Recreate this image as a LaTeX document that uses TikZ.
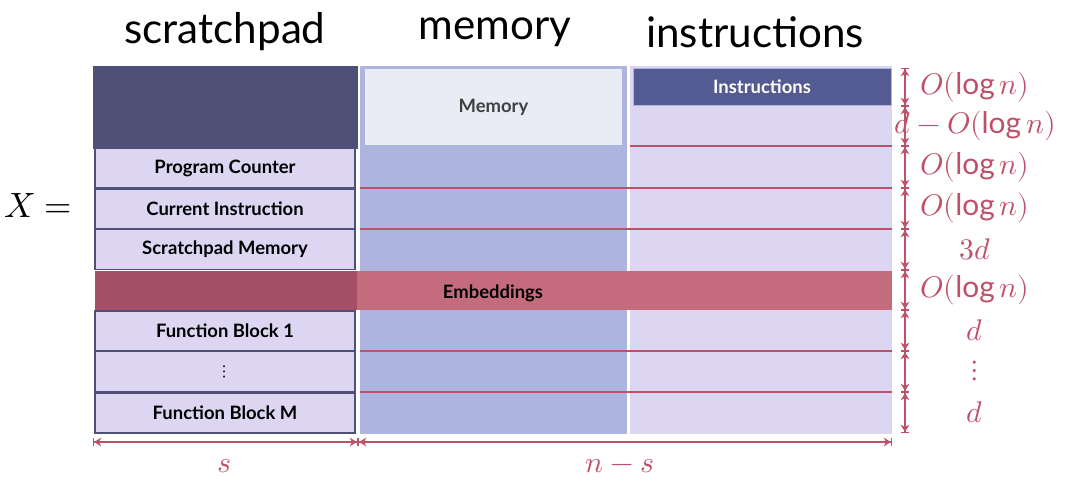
\documentclass[tikz,border=0pt]{standalone}
\usepackage{fontspec}
\setmainfont{Lato}
\usepackage{unicode-math}
\setmathfont{Latin Modern Math}
\usetikzlibrary{arrows.meta,calc}
\definecolor{navy}{HTML}{4F5078}
\definecolor{lav}{HTML}{DCD6F2}
\definecolor{memblue}{HTML}{ADB4DE}
\definecolor{membox}{HTML}{E9EBF5}
\definecolor{instr}{HTML}{545A92}
\definecolor{embd}{HTML}{C56B7E}
\definecolor{embdark}{HTML}{A44F65}
\definecolor{dimred}{HTML}{C0506A}
\tikzset{
  cell/.style={draw=navy, fill=lav, line width=0.8pt, minimum width=5.2cm, minimum height=0.8cm, inner sep=0pt, font=\bfseries\fontsize{10.5}{12}\selectfont},
  head/.style={font=\fontsize{24}{28}\selectfont},
  sep/.style={draw=dimred, line width=0.6pt},
  dim/.style={draw=dimred, line width=0.7pt, {Bar[width=5pt]Stealth[length=4pt,width=5pt]}-{Stealth[length=4pt,width=5pt]Bar[width=5pt]}},
  dimlab/.style={text=dimred, font=\fontsize{17}{20}\selectfont}
}
\begin{document}
\begin{tikzpicture}[x=0.02cm,y=-0.02cm]
\useasboundingbox (0,0) rectangle (1080,488);
% headers
\node[head] (hs) at (225,32) {scratchpad};
\node[head] (hm) at (495,32) {memory};
\node[head] (hi) at (755,32) {instructions};
\node[font=\fontsize{20}{24}\selectfont] (X) at (38,205) {$X=$};
% columns
\fill[memblue] (360,66) rectangle (627,434);
\fill[lav] (630,66) rectangle (892,434);
\node[fill=membox, draw=memblue, line width=0.8pt, minimum width=5.18cm, minimum height=1.56cm, inner sep=0pt, text=black!75, font=\bfseries\fontsize{10.5}{12}\selectfont] (mem) at (493.5,107) {Memory};
\node[fill=instr, draw=memblue, minimum width=5.16cm, minimum height=0.74cm, inner sep=0pt, text=white, font=\bfseries\fontsize{10.5}{12}\selectfont] (ins) at (762,87) {Instructions};
% scratchpad
\node[draw=navy, fill=navy, minimum width=5.28cm, minimum height=1.64cm, inner sep=0pt] (top) at (225,107) {};
\node[cell] (pc) at (225,168) {Program Counter};
\node[cell] (ci) at (225,209) {Current Instruction};
\node[cell] (sm) at (225,249.5) {Scratchpad Memory};
\node[cell] (f1) at (225,331) {Function Block 1};
\node[cell] (fd) at (225,371.5) {$\vdots$};
\node[cell] (fm) at (225,413) {Function Block M};
% separators
\draw[sep] (630,146) -- (892,146);
\foreach \y in {188,229,351,392}
  \draw[sep] (360,\y) -- (892,\y);
% embeddings
\fill[embd] (357,271) rectangle (892,310);
\node[fill=embdark, minimum width=5.24cm, minimum height=0.78cm, inner sep=0pt] (eb) at (226,290.5) {};
\node[font=\bfseries\fontsize{10.5}{12}\selectfont] (el) at (493,293) {Embeddings};
% dimensions
\foreach \n/\y in {0/68,1/106,2/146,3/188,4/229,5/270,6/310,7/351,8/392,9/433}
  \coordinate (t\n) at (905,\y);
\foreach \a/\b/\l in {0/1/{$O(\log n)$},1/2/{$d-O(\log n)$},2/3/{$O(\log n)$},3/4/{$O(\log n)$},4/5/{$3d$},5/6/{$O(\log n)$},6/7/{$d$},7/8/{$\vdots$},8/9/{$d$}}{
  \draw[dim] (t\a) -- (t\b);
  \node[dimlab] at ($(t\a)!0.5!(t\b)+(70,0)$) {\l};
}
\coordinate (b0) at (93,442);
\coordinate (b1) at (358,442);
\coordinate (b2) at (892,442);
\draw[dim] (b0) -- (b1);
\draw[dim] (b1) -- (b2);
\node[dimlab] (s) at (225,466) {$s$};
\node[dimlab] (ns) at (620,466) {$n-s$};
\end{tikzpicture}
\end{document}
